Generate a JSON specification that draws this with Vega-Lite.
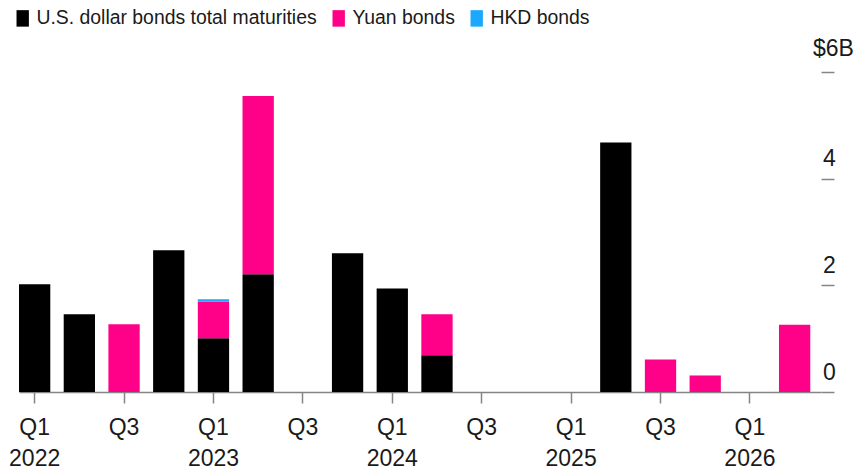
{
  "$schema": "https://vega.github.io/schema/vega-lite/v6.json",
  "width": 802,
  "height": 320,
  "autosize": "none",
  "padding": {"left": 19, "top": 72, "right": 35, "bottom": 83},
  "background": "white",
  "config": {
    "view": {"stroke": null},
    "font": "Liberation Sans, Arial, sans-serif"
  },
  "data": {
    "values": [
      {"q": "Q1|2022", "type": "U.S. dollar bonds total maturities", "o": 1, "v": 2.02},
      {"q": "Q2|2022", "type": "U.S. dollar bonds total maturities", "o": 1, "v": 1.46},
      {"q": "Q3|2022", "type": "Yuan bonds", "o": 2, "v": 1.27},
      {"q": "Q4|2022", "type": "U.S. dollar bonds total maturities", "o": 1, "v": 2.66},
      {"q": "Q1|2023", "type": "U.S. dollar bonds total maturities", "o": 1, "v": 1.01},
      {"q": "Q1|2023", "type": "Yuan bonds", "o": 2, "v": 0.68},
      {"q": "Q1|2023", "type": "HKD bonds", "o": 3, "v": 0.05},
      {"q": "Q2|2023", "type": "U.S. dollar bonds total maturities", "o": 1, "v": 2.21},
      {"q": "Q2|2023", "type": "Yuan bonds", "o": 2, "v": 3.34},
      {"q": "Q4|2023", "type": "U.S. dollar bonds total maturities", "o": 1, "v": 2.6},
      {"q": "Q1|2024", "type": "U.S. dollar bonds total maturities", "o": 1, "v": 1.94},
      {"q": "Q2|2024", "type": "U.S. dollar bonds total maturities", "o": 1, "v": 0.69},
      {"q": "Q2|2024", "type": "Yuan bonds", "o": 2, "v": 0.77},
      {"q": "Q2|2025", "type": "U.S. dollar bonds total maturities", "o": 1, "v": 4.68},
      {"q": "Q3|2025", "type": "Yuan bonds", "o": 2, "v": 0.61},
      {"q": "Q4|2025", "type": "Yuan bonds", "o": 2, "v": 0.31},
      {"q": "Q2|2026", "type": "Yuan bonds", "o": 2, "v": 1.26}
    ]
  },
  "mark": {"type": "bar"},
  "encoding": {
    "x": {
      "field": "q",
      "type": "nominal",
      "scale": {
        "domain": ["Q1|2022", "Q2|2022", "Q3|2022", "Q4|2022", "Q1|2023", "Q2|2023", "Q3|2023", "Q4|2023", "Q1|2024", "Q2|2024", "Q3|2024", "Q4|2024", "Q1|2025", "Q2|2025", "Q3|2025", "Q4|2025", "Q1|2026", "Q2|2026"],
        "paddingInner": 0.3,
        "paddingOuter": 0.12,
        "align": 0
      },
      "axis": {
        "title": null,
        "values": ["Q1|2022", "Q3|2022", "Q1|2023", "Q3|2023", "Q1|2024", "Q3|2024", "Q1|2025", "Q3|2025", "Q1|2026"],
        "labelExpr": "slice(datum.label, 0, 2) == 'Q1' ? split(datum.label, '|') : slice(datum.label, 0, 2)",
        "labelAngle": 0,
        "labelFontSize": 23,
        "labelColor": "#1a1a1a",
        "labelBaseline": "top",
        "labelPadding": 13,
        "labelLineHeight": 31,
        "domainColor": "#858585",
        "domainWidth": 1.5,
        "tickColor": "#858585",
        "tickWidth": 1.5,
        "tickSize": 11
      }
    },
    "y": {
      "field": "v",
      "type": "quantitative",
      "stack": "zero",
      "scale": {"domain": [0, 6], "nice": false},
      "axis": {
        "orient": "right",
        "title": null,
        "values": [0, 2, 4, 6],
        "grid": false,
        "domain": false,
        "labelExpr": "datum.value == 6 ? '$6B' : datum.label",
        "labelFontSize": 23,
        "labelColor": "#1a1a1a",
        "labelAlign": "center",
        "labelBaseline": "bottom",
        "labelOffset": {"condition": {"test": "datum.value == 6", "value": -12}, "value": -8},
        "labelPadding": {"condition": {"test": "datum.value == 6", "value": -1}, "value": -5},
        "tickColor": "#858585",
        "tickWidth": 1.5,
        "tickSize": 13
      }
    },
    "color": {
      "field": "type",
      "type": "nominal",
      "scale": {
        "domain": ["U.S. dollar bonds total maturities", "Yuan bonds", "HKD bonds"],
        "range": ["#000000", "#ff0088", "#1ca8ff"]
      },
      "legend": {
        "title": null,
        "orient": "none",
        "direction": "horizontal",
        "legendX": -6,
        "legendY": -63.75,
        "padding": 0,
        "symbolType": "M-0.75,-1H0.75V1H-0.75Z",
        "symbolSize": 272,
        "symbolStrokeWidth": 0,
        "labelFontSize": 19.4,
        "labelLimit": 0,
        "labelColor": "#1a1a1a",
        "labelOffset": 4,
        "columnPadding": 12
      }
    },
    "order": {"field": "o", "type": "quantitative"}
  }
}
